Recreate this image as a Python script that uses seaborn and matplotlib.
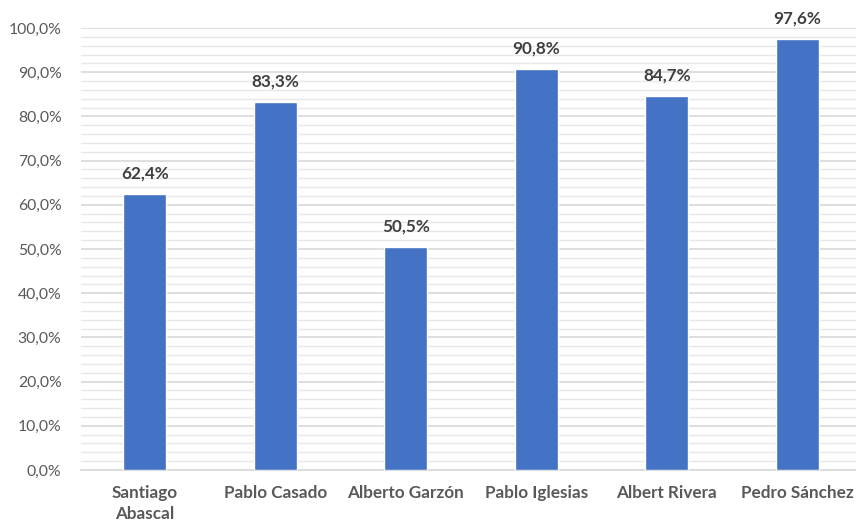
import matplotlib
matplotlib.use("Agg")
import matplotlib.pyplot as plt
import seaborn as sns
import pandas as pd
import numpy as np
from matplotlib.ticker import MultipleLocator, FuncFormatter

categories = ["Santiago\nAbascal", "Pablo Casado", "Alberto Garzón",
              "Pablo Iglesias", "Albert Rivera", "Pedro Sánchez"]
values = [62.4, 83.3, 50.5, 90.8, 84.7, 97.6]

df = pd.DataFrame({"cat": categories, "val": values})

sns.set_theme(style="white")
plt.rcParams['font.family'] = ['Lato', 'DejaVu Sans']

fig = plt.figure(figsize=(8.56, 5.23), dpi=100)
ax = fig.add_axes([81/856, 1-470/523, 1-81/856, (470-28)/523])

sns.barplot(data=df, x="cat", y="val", color="#4472C4", width=0.33,
            saturation=1, ax=ax, zorder=3)

ax.set_ylim(0, 100)
ax.set_xlim(-0.49, 5.45)
ax.yaxis.set_major_locator(MultipleLocator(10))
ax.yaxis.set_minor_locator(MultipleLocator(2))
ax.yaxis.set_major_formatter(FuncFormatter(lambda v, p: f"{v:.1f}%".replace(".", ",")))
ax.grid(axis="y", which="major", color="#D9D9D9", linewidth=1.2, zorder=0)
ax.grid(axis="y", which="minor", color="#E8E8E8", linewidth=1.0, zorder=0)
ax.set_axisbelow(True)
for s in ["top", "right", "left"]:
    ax.spines[s].set_visible(False)
ax.spines["bottom"].set_color("#D9D9D9")
ax.spines["bottom"].set_linewidth(1.2)
ax.tick_params(axis="both", which="both", length=0)
ax.tick_params(axis="y", labelsize=11.3, labelcolor="#595959", pad=14)
ax.tick_params(axis="x", labelsize=12.3, labelcolor="#595959", pad=11)
for lbl in ax.get_xticklabels():
    lbl.set_fontweight("bold")
    lbl.set_linespacing(1.35)
ax.set_xlabel("")
ax.set_ylabel("")

for i, v in enumerate(values):
    ax.annotate(f"{v:.1f}%".replace(".", ","), (i, v), xytext=(0, 9),
                textcoords="offset points", ha="center", va="bottom",
                fontsize=12.3, fontweight="bold", color="#404040", clip_on=False)

fig.savefig("out.png", dpi=100)
